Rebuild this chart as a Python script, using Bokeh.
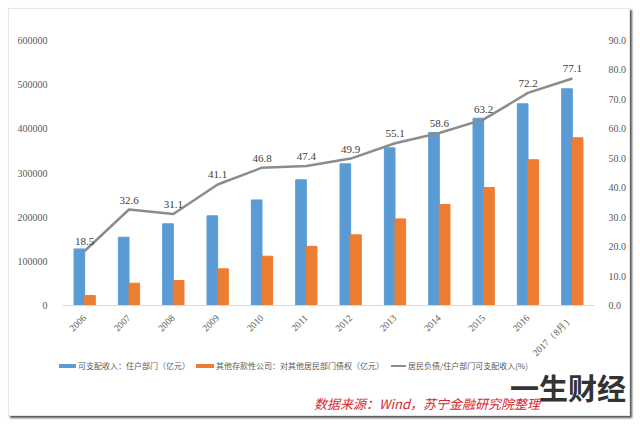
from bokeh.plotting import figure
from bokeh.models import (FactorRange, Range1d, LinearAxis, ColumnDataSource, LabelSet,
                          NumeralTickFormatter, Div)
from bokeh.layouts import column
from bokeh.transform import dodge
from bokeh.core.properties import value
from bokeh.embed import file_html
from bokeh.resources import INLINE
import math

years = ["2006", "2007", "2008", "2009", "2010", "2011", "2012", "2013", "2014", "2015", "2016", "2017（8月）"]
income = [128000, 154600, 185000, 203000, 239000, 284600, 320800, 357000, 391700, 424000, 456700, 490600]
claims = [22600, 50500, 56600, 83000, 111600, 134000, 160000, 196000, 228700, 267000, 330000, 379700]
ratio = [18.5, 32.6, 31.1, 41.1, 46.8, 47.4, 49.9, 55.1, 58.6, 63.2, 72.2, 77.1]
ratio_labels = ["%.1f" % v for v in ratio]

name_income = "可支配收入：住户部门（亿元）"
name_claims = "其他存款性公司：对其他居民部门债权（亿元）"
name_ratio = "居民负债/住户部门可支配收入(%)"
source_note = "数据来源：Wind，苏宁金融研究院整理"
logo_text = "一生财经"

C_BLUE, C_ORANGE, C_GRAY = "#5B9BD5", "#ED7D31", "#8C8C8C"

src = ColumnDataSource(dict(years=years, income=income, claims=claims, ratio=ratio, lab=ratio_labels))

PW, PH = 622, 408
p = figure(width=PW, height=PH, x_range=FactorRange(*years, range_padding=0.0),
           y_range=Range1d(0, 600000), output_backend="svg", toolbar_location=None,
           min_border_left=53, min_border_right=37, min_border_top=31, min_border_bottom=PH - 31 - 265)
p.styles = {"box-shadow": "2px 2px 2px #555", "border": "1px solid #e6e6e6"}
p.extra_y_ranges = {"r": Range1d(0, 90)}
p.outline_line_color = None
p.xgrid.grid_line_color = None
p.ygrid.grid_line_color = None

p.vbar(x=dodge("years", -0.12, range=p.x_range), top="income", width=0.24, source=src, color=C_BLUE)
p.vbar(x=dodge("years", 0.12, range=p.x_range), top="claims", width=0.24, source=src, color=C_ORANGE)
p.line(x="years", y="ratio", source=src, y_range_name="r", line_color=C_GRAY, line_width=2.5)

labels = LabelSet(x="years", y="ratio", text="lab", source=src, y_range_name="r",
                  text_align="center", text_baseline="bottom", y_offset=6,
                  text_font=value("Liberation Serif"), text_font_size="11px", text_color="#404040")
p.add_layout(labels)

ax = p.xaxis[0]
ax.major_label_orientation = math.pi / 4
ax.axis_line_color = "#D9D9D9"
ax.major_tick_line_color = None
ax.minor_tick_line_color = None
ax.major_label_text_font = "Liberation Serif"
ax.major_label_text_font_size = "9.5px"
ax.major_label_text_color = "#595959"

ly = p.yaxis[0]
ly.axis_line_color = None
ly.major_tick_line_color = None
ly.minor_tick_line_color = None
ly.ticker.desired_num_ticks = 7
ly.formatter = NumeralTickFormatter(format="0")
ly.major_label_text_font = "Liberation Serif"
ly.major_label_text_font_size = "10px"
ly.major_label_text_color = "#595959"
ly.major_label_standoff = 9

ry = LinearAxis(y_range_name="r", formatter=NumeralTickFormatter(format="0.0"))
ry.ticker.desired_num_ticks = 10
ry.axis_line_color = None
ry.major_tick_line_color = None
ry.minor_tick_line_color = None
ry.major_label_text_font = "Liberation Serif"
ry.major_label_text_font_size = "10px"
ry.major_label_text_color = "#595959"
ry.major_label_standoff = 8
p.add_layout(ry, "right")

# legend, source note and watermark drawn as HTML overlay just above the bottom edge
TXT = "font-family:'Noto Sans CJK SC';font-size:8px;line-height:10px;color:#595959;white-space:nowrap;"
def sw(left, width, top, height, color):
    return (f'<span style="position:absolute;left:{left}px;top:{top}px;width:{width}px;'
            f'height:{height}px;background:{color};"></span>')
def tx(left, top, text, style):
    return f'<span style="position:absolute;left:{left}px;top:{top}px;{style}">{text}</span>'

DY = -16
html = (
    '<div style="position:relative;width:622px;height:1px;">'
    + sw(46, 17, -52 + DY, 4, C_BLUE) + tx(65, -55 + DY, name_income, TXT)
    + sw(183, 18, -52 + DY, 4, C_ORANGE) + tx(203, -55 + DY, name_claims, TXT)
    + sw(378, 15, -51 + DY, 2, C_GRAY) + tx(395, -55 + DY, name_ratio, TXT)
    + tx(301, -35, source_note,
         "font-family:'Noto Sans CJK SC';font-size:13px;line-height:14px;font-style:italic;"
         "color:#D7262E;white-space:nowrap;")
    + tx(497, -60, logo_text,
         "font-family:'Noto Sans CJK SC';font-size:29px;line-height:30px;font-weight:bold;"
         "color:#333333;white-space:nowrap;")
    + '</div>'
)
div = Div(text=html, width=PW, height=1, styles={"overflow": "visible"})

lay = column(p, div, spacing=0)
lay.styles = {"margin-left": "8px", "margin-top": "8px"}

open("out.html", "w").write(file_html(lay, INLINE))
